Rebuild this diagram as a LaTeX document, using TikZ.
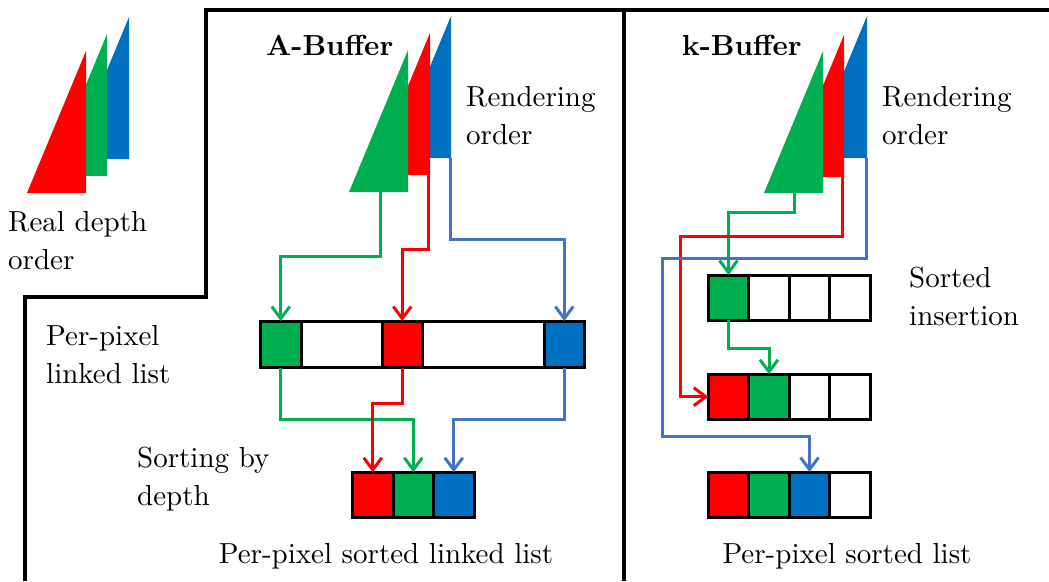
\documentclass[tikz,border=0pt]{standalone}
\usepackage{fontspec}
\setmainfont{lmroman10-regular.otf}[BoldFont=lmroman10-bold.otf]
\usepackage{tikz}
\usetikzlibrary{arrows.meta}

\definecolor{kgreen}{HTML}{00B050}
\definecolor{kred}{HTML}{FF0000}
\definecolor{kblue}{HTML}{0070C0}
\definecolor{lblue}{HTML}{4472C4}

\tikzset{
  cell/.style={draw=black, line width=3pt, inner sep=0pt, outer sep=0pt,
    minimum width=40.5pt, minimum height=45pt},
  frame/.style={line width=3.2pt},
  conn/.style={line width=3pt, -{Straight Barb[length=12pt,width=18pt]}},
  garrow/.style={conn, draw=kgreen},
  rarrow/.style={conn, draw=kred},
  barrow/.style={conn, draw=lblue},
  lbl/.style={font=\fontsize{29}{38}\selectfont, align=left, inner sep=0pt, anchor=north west},
  title/.style={font=\fontsize{29}{38}\selectfont\bfseries, inner sep=0pt, anchor=base west},
}

\begin{document}
\begin{tikzpicture}[x=1pt, y=-1pt]
\useasboundingbox (0,0) rectangle (1049,581);

%% frame
\draw[frame] (25,581) -- (25,297) -- (206,297) -- (206,10) -- (1049,10);
\draw[frame] (624,10) -- (624,581);

%% real depth order
\fill[kblue]  (70,159) -- (129,159) -- (129,17) -- cycle;
\fill[kgreen] (48,176) -- (107,176) -- (107,34) -- cycle;
\fill[kred]   (27,193) -- (86,193) -- (86,51) -- cycle;
\node[lbl] (real) at (8,211) {Real depth\\order};

%% A-Buffer
\node[title] (abuf) at (266,55) {A-Buffer};
\fill[kblue]  (392,158) -- (451,158) -- (451,16) -- cycle;
\fill[kred]   (371,175) -- (430,175) -- (430,33) -- cycle;
\fill[kgreen] (349,192) -- (408,192) -- (408,50) -- cycle;
\coordinate (tgA) at (380,192);
\coordinate (trA) at (428,175);
\coordinate (tbA) at (450,158);
\node[lbl] (rendA) at (466,86) {Rendering\\order};

\node[cell, fill=kgreen, minimum width=41.5pt, minimum height=46.5pt] (ag) at (280.75,344.25) {};
\node[cell, fill=white,  minimum width=80.5pt, minimum height=46.5pt] (aw1) at (341.75,344.25) {};
\node[cell, fill=kred,   minimum width=40.5pt, minimum height=46.5pt] (ar) at (402.25,344.25) {};
\node[cell, fill=white,  minimum width=121.5pt, minimum height=46.5pt] (aw2) at (483.25,344.25) {};
\node[cell, fill=kblue,  minimum width=40.5pt, minimum height=46.5pt] (ab) at (564.25,344.25) {};
\node[lbl] (pplist) at (46,325) {Per-pixel\\linked list};

\node[cell, fill=kred]   (sr) at (372.75,494.75) {};
\node[cell, fill=kgreen] (sg) at (413.25,494.75) {};
\node[cell, fill=kblue]  (sb) at (453.75,494.75) {};
\node[lbl] (sortby) at (137,447) {Sorting by\\depth};
\node[lbl, anchor=base] (sortedA) at (386,563) {Per-pixel sorted linked list};

\draw[garrow] (tgA) -- ++(0,64) -| (ag.north);
\draw[rarrow] (trA) -- ++(0,74) -| (ar.north);
\draw[barrow] (tbA) -- ++(0,81) -| (ab.north);
\draw[garrow] (ag.south) -- ++(0,52) -| (sg.north);
\draw[rarrow] (ar.south) -- ++(0,36) -| (sr.north);
\draw[barrow] (ab.south) -- ++(0,52) -| (sb.north);

%% k-Buffer
\node[title] (kbuf) at (682,55) {k-Buffer};
\fill[kblue]  (808,158) -- (867,158) -- (867,16) -- cycle;
\fill[kred]   (785,177) -- (844,177) -- (844,35) -- cycle;
\fill[kgreen] (764,193) -- (823,193) -- (823,51) -- cycle;
\coordinate (tgK) at (794,193);
\coordinate (trK) at (842,177);
\coordinate (tbK) at (866,158);
\node[lbl] (rendK) at (882,86) {Rendering\\order};

\node[cell, fill=kgreen] (k1a) at (728.5,297.5) {};
\node[cell, fill=white]  (k1b) at (769,297.5) {};
\node[cell, fill=white]  (k1c) at (809.5,297.5) {};
\node[cell, fill=white]  (k1d) at (850,297.5) {};
\node[lbl] (sortins) at (909,267) {Sorted\\insertion};

\node[cell, fill=kred]   (k2a) at (728.5,396.7) {};
\node[cell, fill=kgreen] (k2b) at (769,396.7) {};
\node[cell, fill=white]  (k2c) at (809.5,396.7) {};
\node[cell, fill=white]  (k2d) at (850,396.7) {};

\node[cell, fill=kred]   (k3a) at (728.5,494.5) {};
\node[cell, fill=kgreen] (k3b) at (769,494.5) {};
\node[cell, fill=kblue]  (k3c) at (809.5,494.5) {};
\node[cell, fill=white]  (k3d) at (850,494.5) {};
\node[lbl, anchor=base] (sortedK) at (847,563) {Per-pixel sorted list};

\coordinate (kr) at (680,236);
\coordinate (kb) at (662,258);
\coordinate (kb2) at (662,436);

\draw[garrow] (tgK) -- ++(0,19) -| (k1a.north);
\draw[rarrow] (trK) |- (kr) |- (k2a.west);
\draw[barrow] (tbK) |- (kb) -- (kb2) -| (k3c.north);
\draw[garrow] (k1a.south) -- ++(0,28) -| (k2b.north);
\end{tikzpicture}
\end{document}
